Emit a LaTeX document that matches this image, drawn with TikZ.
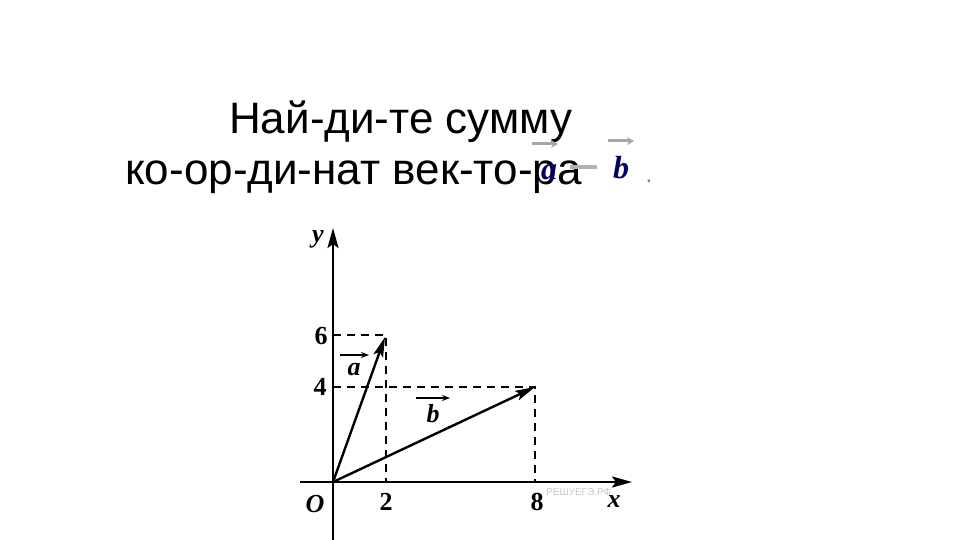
\documentclass[tikz,border=0pt]{standalone}
\usepackage{fontspec}
\setmainfont{Liberation Serif}
\newfontfamily\titlefont{Liberation Sans}
\usetikzlibrary{arrows.meta}
\begin{document}
\begin{tikzpicture}[x=1pt,y=-1pt,
  axis/.style={line width=2.6pt,-{Stealth[length=20pt,width=11pt,inset=4pt]}},
  vec/.style={line width=2.4pt,-{Stealth[length=20pt,width=10pt,inset=4pt]}},
  guide/.style={line width=2.2pt,dash pattern=on 8pt off 6pt},
  ttl/.style={font=\titlefont\fontsize{44}{44}\selectfont,anchor=base west,inner sep=0pt},
  lbl/.style={font=\fontsize{26}{26}\selectfont\bfseries,inner sep=0pt},
  ovarr/.style={line width=3pt,gray!70,-{Stealth[length=7pt,width=8pt]}}]
\useasboundingbox (0,0) rectangle (960,540);
% title
\node[ttl] (t1) at (229,134) {Най-ди-те сумму};
\node[ttl] (t2) at (125,185) {ко-ор-ди-нат век-то-ра};
\node[inner sep=0pt,font=\fontsize{32}{32}\selectfont\bfseries\itshape,text=blue!40!black] (ta) at (549,172) {a};
\node[inner sep=0pt,font=\fontsize{32}{32}\selectfont\bfseries\itshape,text=blue!40!black] (tb) at (621,168) {b};
\coordinate (am1) at (532,144); \coordinate (am2) at (558,144);
\coordinate (bm1) at (608,141); \coordinate (bm2) at (634,141);
\draw[ovarr] (am1) -- (am2);
\draw[ovarr] (bm1) -- (bm2);
\coordinate (mn1) at (570,167); \coordinate (mn2) at (597,167);
\draw[line width=3.5pt,gray!60] (mn1) -- (mn2);
\node[inner sep=0pt,text=gray,font=\titlefont\fontsize{24}{24}\selectfont] (dot) at (649,181) {.};
% axes
\coordinate (O) at (333,482);
\coordinate (xs) at (300,482); \coordinate (xe) at (632,482);
\coordinate (ys) at (333,545); \coordinate (ye) at (333,228);
\draw[axis] (xs) -- (xe);
\draw[axis] (ys) -- (ye);
% guide lines
\coordinate (A) at (385,337);
\coordinate (B) at (535,387);
\coordinate (y6) at (333,335); \coordinate (x2) at (386,482);
\coordinate (y4) at (333,387); \coordinate (x8) at (535,482);
\coordinate (a6) at (386,335);
\draw[guide] (y6) -- (a6) -- (x2);
\draw[guide] (y4) -- (B) -- (x8);
% vectors
\draw[vec] (O) -- (A);
\draw[vec] (O) -- (B);
% labels
\node[lbl] (ly) at (318,239) {\itshape y};
\node[lbl] (lx) at (614,502) {\itshape x};
\node[lbl] (lO) at (315,504) {\itshape O};
\node[lbl] (l2) at (386,502) {2};
\node[lbl] (l8) at (537,502) {8};
\node[lbl] (l6) at (321,336) {6};
\node[lbl] (l4) at (320,387) {4};
\node[lbl] (la) at (354,370) {\itshape a};
\coordinate (lam1) at (340,355); \coordinate (lam2) at (369,355);
\draw[line width=1.6pt,-{Stealth[length=8pt,width=6pt]}] (lam1) -- (lam2);
\node[lbl] (lb) at (433,414) {\itshape b};
\coordinate (lbm1) at (416,398); \coordinate (lbm2) at (450,398);
\draw[line width=1.6pt,-{Stealth[length=8pt,width=6pt]}] (lbm1) -- (lbm2);
\node[inner sep=0pt,text=gray!45,font=\titlefont\fontsize{10}{10}\selectfont,anchor=west] (wm) at (546,492) {РЕШУЕГЭ.РФ};
\end{tikzpicture}
\end{document}
